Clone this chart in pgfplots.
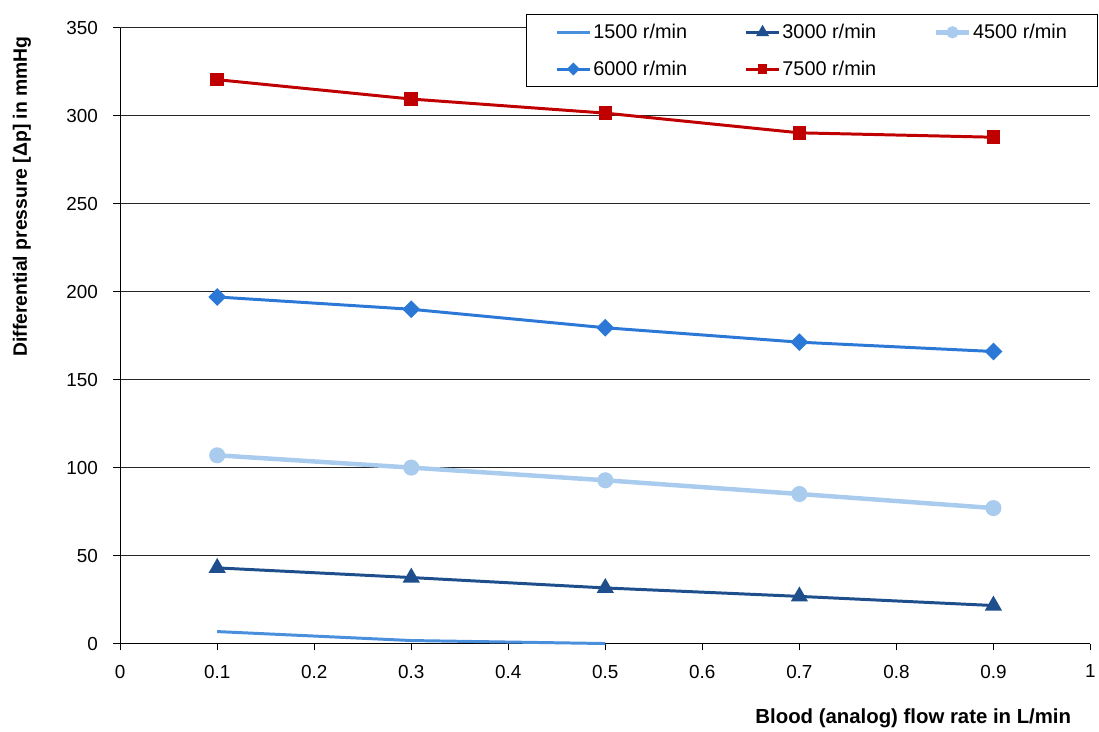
\documentclass[border=0pt]{standalone}
\usepackage{pgfplots}
\pgfplotsset{compat=1.18}
\usepackage{fontspec}
\setmainfont{Liberation Sans}
\definecolor{cA}{HTML}{4A8FDB}
\definecolor{cB}{HTML}{1F4E8C}
\definecolor{cC}{HTML}{A9CBEE}
\definecolor{cD}{HTML}{2B78D6}
\definecolor{cE}{HTML}{C00000}
\begin{document}
\begin{tikzpicture}
\begin{axis}[
  name=ax,
  scale only axis,
  width=977pt, height=620pt,
  xmin=0, xmax=1, ymin=0, ymax=350,
  axis lines*=left,
  axis line style={black, line width=0.8pt},
  xtick={0,0.1,...,1.0},
  xticklabels={0,0.1,0.2,0.3,0.4,0.5,0.6,0.7,0.8,0.9,1},
  ytick={0,50,...,350},
  tick align=outside,
  major tick length=7pt,
  tick style={black, line width=0.8pt},
  ymajorgrids,
  grid style={black!85, line width=0.7pt},
  /pgf/number format/assume math mode=true,
  tick label style={font=\fontsize{19}{20}\selectfont},
  xticklabel style={yshift=-11pt},
  yticklabel style={xshift=-12pt},
  xlabel={\textbf{Blood (analog) flow rate in L/min}},
  xlabel style={at={(axis description cs:1,0)}, anchor=north east, yshift=-62pt, xshift=-16pt, font=\fontsize{20.5}{22}\selectfont},
  ylabel={\textbf{Differential pressure [Δp] in mmHg}},
  ylabel style={at={(axis description cs:-0.1013,0.726)}, anchor=center, font=\fontsize{19.5}{22}\selectfont},
  legend columns=3,
  legend cell align=left,
  legend style={at={(axis description cs:0.4186,1.0224)}, anchor=north west,
    draw=black, line width=0.8pt, fill=white,
    font=\fontsize{20}{22}\selectfont,
    inner xsep=29pt, inner ysep=8pt,
    row sep=17pt,
    /tikz/every even column/.append style={column sep=56pt}},
  legend image code/.code={\draw[mark repeat=2,mark phase=2,every mark/.append style={scale=0.65}] plot coordinates {(0pt,0pt) (16.5pt,0pt) (33pt,0pt)};},
  clip=false,
]
\addplot[cA, line width=3pt, no markers] coordinates {(0.1,6.8) (0.3,1.7) (0.5,0)};
\addlegendentry{1500 r/min}
\addplot[cB, line width=3pt, mark=triangle*, mark size=7pt, mark options={solid}] coordinates {(0.1,43) (0.3,37.5) (0.5,31.6) (0.7,26.8) (0.9,21.6)};
\addlegendentry{3000 r/min}
\addplot[cC, line width=4.5pt, mark=*, mark size=5.8pt] coordinates {(0.1,107) (0.3,100) (0.5,92.8) (0.7,85) (0.9,77)};
\addlegendentry{4500 r/min}
\addplot[cD, line width=3pt, mark=square*, mark size=4.8pt, mark options={rotate=45}] coordinates {(0.1,197) (0.3,190) (0.5,179.5) (0.7,171.3) (0.9,166)};
\addlegendentry{6000 r/min}
\addplot[cE, line width=3pt, mark=square*, mark size=5.3pt] coordinates {(0.1,320.5) (0.3,309.5) (0.5,301.5) (0.7,290.3) (0.9,287.8)};
\addlegendentry{7500 r/min}
\end{axis}
\path ([xshift=-121pt,yshift=-89pt]ax.south west) rectangle ([xshift=1pt,yshift=28pt]ax.north east);
\end{tikzpicture}
\end{document}
